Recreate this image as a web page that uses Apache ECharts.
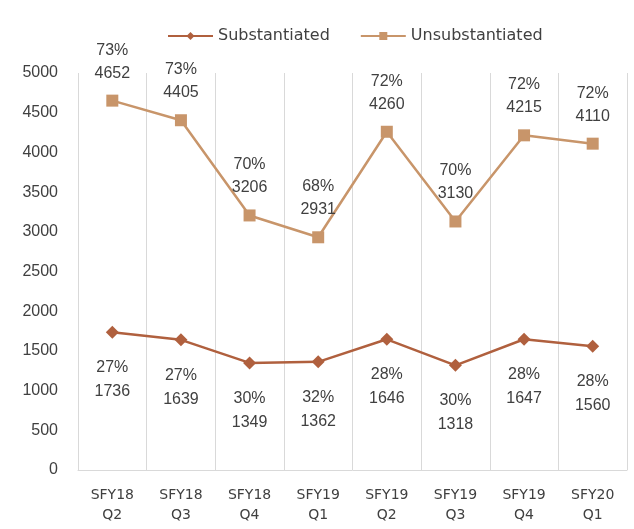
<!DOCTYPE html>
<html><head><meta charset="utf-8">
<script src="https://cdn.jsdelivr.net/npm/echarts@6/dist/echarts.min.js"></script>
<style>html,body{margin:0;padding:0;background:#fff}#c{width:634px;height:529px}</style>
</head><body><div id="c"></div>
<script>
const categories = ['SFY18\nQ2','SFY18\nQ3','SFY18\nQ4','SFY19\nQ1','SFY19\nQ2','SFY19\nQ3','SFY19\nQ4','SFY20\nQ1'];
const substantiated = [1736,1639,1349,1362,1646,1318,1647,1560];
const substantiatedPct = ['27%','27%','30%','32%','28%','30%','28%','28%'];
const unsubstantiated = [4652,4405,3206,2931,4260,3130,4215,4110];
const unsubstantiatedPct = ['73%','73%','70%','68%','72%','70%','72%','72%'];
const yTicks = [0,500,1000,1500,2000,2500,3000,3500,4000,4500,5000];

const font = 'Liberation Sans, Arial, sans-serif';
const txt = '#404040';

const chart = echarts.init(document.getElementById('c'));
chart.setOption({
  animation:false,
  textStyle:{fontFamily:font},
  legend:{top:23,left:162,itemWidth:45,itemHeight:10,itemGap:30,
    textStyle:{fontSize:16,color:txt,fontFamily:'DejaVu Sans, sans-serif'},
    data:['Substantiated','Unsubstantiated']},
  grid:{left:78,right:7,top:73,bottom:59},
  xAxis:{type:'category',data:categories,boundaryGap:true,
    axisLine:{lineStyle:{color:'#d9d9d9',width:1}},
    axisTick:{show:false},
    splitLine:{show:true,lineStyle:{color:'#d9d9d9',width:1}},
    axisLabel:{fontSize:14,color:txt,lineHeight:20,margin:15,interval:0,fontFamily:'DejaVu Sans, sans-serif'}},
  yAxis:{type:'value',min:yTicks[0],max:yTicks[yTicks.length-1],interval:500,
    axisLine:{show:false},axisTick:{show:false},splitLine:{show:false},
    axisLabel:{fontSize:16,color:txt,margin:20,formatter:v=>String(v)}},
  series:[
    {name:'Substantiated',type:'line',data:substantiated,symbol:'diamond',symbolSize:13,
      itemStyle:{color:'#B0603E'},lineStyle:{color:'#B0603E',width:2.5},
      label:{show:true,position:'bottom',distance:17,fontSize:16,color:txt,lineHeight:24,
        formatter:p=>substantiatedPct[p.dataIndex]+'\n'+p.value}},
    {name:'Unsubstantiated',type:'line',data:unsubstantiated,symbol:'rect',symbolSize:12,
      itemStyle:{color:'#C8956A'},lineStyle:{color:'#C8956A',width:2.5},
      label:{show:true,position:'top',distance:10,fontSize:16,color:txt,lineHeight:23,
        formatter:p=>unsubstantiatedPct[p.dataIndex]+'\n'+p.value}}
  ]
});
</script></body></html>
